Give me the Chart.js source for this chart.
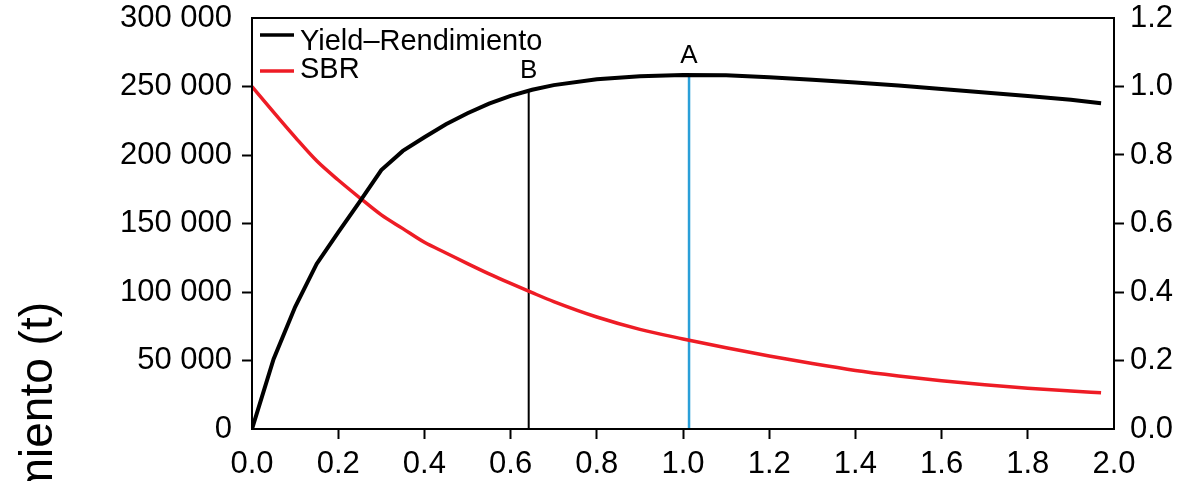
<!DOCTYPE html>
<html>
<head>
<meta charset="utf-8">
<script src="https://cdn.jsdelivr.net/npm/chart.js@4.4.1/dist/chart.umd.min.js"></script>
<style>
  html, body { margin: 0; padding: 0; background: #fff; overflow: hidden; }
  #yieldChart { display: block; }
</style>
</head>
<body>
<canvas id="yieldChart" width="1181" height="481"></canvas>
<script>
// fishing mortality F on the x axis
const fValues = [0, 0.05, 0.1, 0.15, 0.2, 0.25, 0.3, 0.35, 0.4, 0.45, 0.5, 0.55, 0.6, 0.65,
                 0.7, 0.8, 0.9, 1.0, 1.1, 1.2, 1.3, 1.4, 1.5, 1.6, 1.7, 1.8, 1.9, 1.97];
// yield in tonnes (left axis)
const yieldValues = [0, 51000, 89000, 120500, 143500, 166000, 189000, 203000, 213000, 222500,
                     230500, 237500, 243200, 247600, 251000, 255300, 257500, 258400, 258200,
                     256800, 255000, 253000, 250700, 248200, 245700, 243000, 240300, 237700];
// spawning biomass ratio (right axis)
const sbrValues = [1.0, 0.925, 0.852, 0.783, 0.727, 0.675, 0.625, 0.585, 0.545, 0.514,
                   0.483, 0.453, 0.425, 0.398, 0.372, 0.327, 0.291, 0.263, 0.237, 0.213,
                   0.191, 0.171, 0.155, 0.141, 0.129, 0.119, 0.111, 0.106];

// reference points B and A: F value and yield where the vertical line stops
const markerNames = ['B', 'A'];
const markerF = [0.642, 1.014];
const markerYield = [247300, 258400];
const markerColors = ['#000000', '#2a9fd8'];

const leftTicks = [0, 50000, 100000, 150000, 200000, 250000, 300000];
const rightTicks = [0, 0.2, 0.4, 0.6, 0.8, 1.0, 1.2];
const xTicks = [0, 0.2, 0.4, 0.6, 0.8, 1.0, 1.2, 1.4, 1.6, 1.8, 2.0];

const legendLabels = ['Yield\u2013Rendimiento', 'SBR'];
const yTitle = 'Rendimiento (t)';

const FONT = "'Liberation Sans', Arial, sans-serif";
const RED = '#ee1c25';

function toPoints(xs, ys) {
    return xs.map((x, i) => ({x: x, y: ys[i]}));
}

// no tick marks at the two ends of an axis
function endTickColor(ctx) {
    const n = ctx.scale.ticks.length;
    return (ctx.index === 0 || ctx.index === n - 1) ? 'rgba(0,0,0,0)' : '#000';
}

function thousands(v) {
    return String(v).replace(/\B(?=(\d{3})+(?!\d))/g, ' ');
}

const datasets = [
    {
        label: legendLabels[0],
        data: toPoints(fValues, yieldValues),
        yAxisID: 'y',
        borderColor: '#000',
        borderWidth: 4,
        pointRadius: 0,
        tension: 0
    },
    {
        label: legendLabels[1],
        data: toPoints(fValues, sbrValues),
        yAxisID: 'y1',
        borderColor: RED,
        borderWidth: 3.5,
        pointRadius: 0,
        cubicInterpolationMode: 'monotone'
    }
];
markerNames.forEach((name, i) => {
    datasets.push({
        label: name,
        data: [{x: markerF[i], y: 0}, {x: markerF[i], y: markerYield[i]}],
        yAxisID: 'y',
        borderColor: markerColors[i],
        borderWidth: i === 0 ? 2 : 2.5,
        pointRadius: 0,
        order: 5
    });
});

// box around the plot area
const framePlugin = {
    id: 'frame',
    afterDraw(chart) {
        const a = chart.chartArea;
        const ctx = chart.ctx;
        ctx.save();
        ctx.strokeStyle = '#000';
        ctx.lineWidth = 2;
        ctx.strokeRect(a.left, a.top, a.right - a.left, a.bottom - a.top);
        ctx.restore();
    }
};

// letters above the reference lines
const markerLabels = {
    id: 'markerLabels',
    afterDatasetsDraw(chart) {
        const ctx = chart.ctx;
        const xs = chart.scales.x, ys = chart.scales.y;
        ctx.save();
        ctx.font = '26px ' + FONT;
        ctx.fillStyle = '#000';
        ctx.textAlign = 'center';
        ctx.textBaseline = 'alphabetic';
        markerNames.forEach((name, i) => {
            ctx.fillText(name, xs.getPixelForValue(markerF[i]), ys.getPixelForValue(markerYield[i]) - 12);
        });
        ctx.restore();
    }
};

// legend drawn inside the top left corner
const innerLegend = {
    id: 'innerLegend',
    afterDraw(chart) {
        const a = chart.chartArea;
        const ctx = chart.ctx;
        const colors = ['#000', RED];
        ctx.save();
        ctx.font = '29px ' + FONT;
        ctx.textBaseline = 'alphabetic';
        ctx.textAlign = 'left';
        legendLabels.forEach((lab, i) => {
            const lineY = a.top + 17 + i * 36;
            ctx.strokeStyle = colors[i];
            ctx.lineWidth = 3.5;
            ctx.beginPath();
            ctx.moveTo(a.left + 8, lineY);
            ctx.lineTo(a.left + 42, lineY);
            ctx.stroke();
            ctx.fillStyle = '#000';
            ctx.fillText(lab, a.left + 48, a.top + 32 + i * 28);
        });
        ctx.restore();
    }
};

// left title, shared with the panel below so only its upper end shows
const sideTitle = {
    id: 'sideTitle',
    afterDraw(chart) {
        const a = chart.chartArea;
        const ctx = chart.ctx;
        ctx.save();
        ctx.font = '46px ' + FONT;
        ctx.fillStyle = '#000';
        ctx.translate(a.left - 200, a.top + 284);
        ctx.rotate(-Math.PI / 2);
        ctx.textAlign = 'right';
        ctx.textBaseline = 'alphabetic';
        ctx.fillText(yTitle, 0, 0);
        ctx.restore();
    }
};

const tickFont = {family: FONT, size: 31};

// fixed axis sizes; labels may spill into the margins
function fixSize(prop, size) {
    return s => {
        s[prop] = size;
        s.paddingTop = 0;
        s.paddingBottom = 0;
        s.paddingLeft = 0;
        s.paddingRight = 0;
    };
}

new Chart(document.getElementById('yieldChart'), {
    type: 'line',
    data: {datasets: datasets},
    plugins: [framePlugin, markerLabels, innerLegend, sideTitle],
    options: {
        responsive: false,
        animation: false,
        layout: {padding: {top: 18, left: 0, right: 0, bottom: 0}},
        plugins: {legend: {display: false}, tooltip: {enabled: false}},
        scales: {
            x: {
                type: 'linear',
                min: 0,
                max: 2,
                afterBuildTicks: s => { s.ticks = xTicks.map(v => ({value: v})); },
                afterFit: fixSize('height', 52),
                ticks: {color: '#000', font: tickFont, padding: 7, maxRotation: 0,
                        callback: v => v.toFixed(1)},
                grid: {drawOnChartArea: false, tickLength: 10, tickWidth: 2, color: endTickColor},
                border: {color: '#000', width: 2}
            },
            y: {
                position: 'left',
                min: 0,
                max: 300000,
                afterBuildTicks: s => { s.ticks = leftTicks.map(v => ({value: v})); },
                afterFit: fixSize('width', 252),
                ticks: {color: '#000', font: tickFont, padding: 10, callback: v => thousands(v)},
                grid: {drawOnChartArea: false, tickLength: 10, tickWidth: 2, color: endTickColor},
                border: {color: '#000', width: 2}
            },
            y1: {
                position: 'right',
                min: 0,
                max: 1.2,
                afterBuildTicks: s => { s.ticks = rightTicks.map(v => ({value: v})); },
                afterFit: fixSize('width', 67),
                ticks: {color: '#000', font: tickFont, padding: 6, callback: v => v.toFixed(1)},
                grid: {drawOnChartArea: false, tickLength: 10, tickWidth: 2, color: endTickColor},
                border: {color: '#000', width: 2}
            }
        }
    }
});
</script>
</body>
</html>
